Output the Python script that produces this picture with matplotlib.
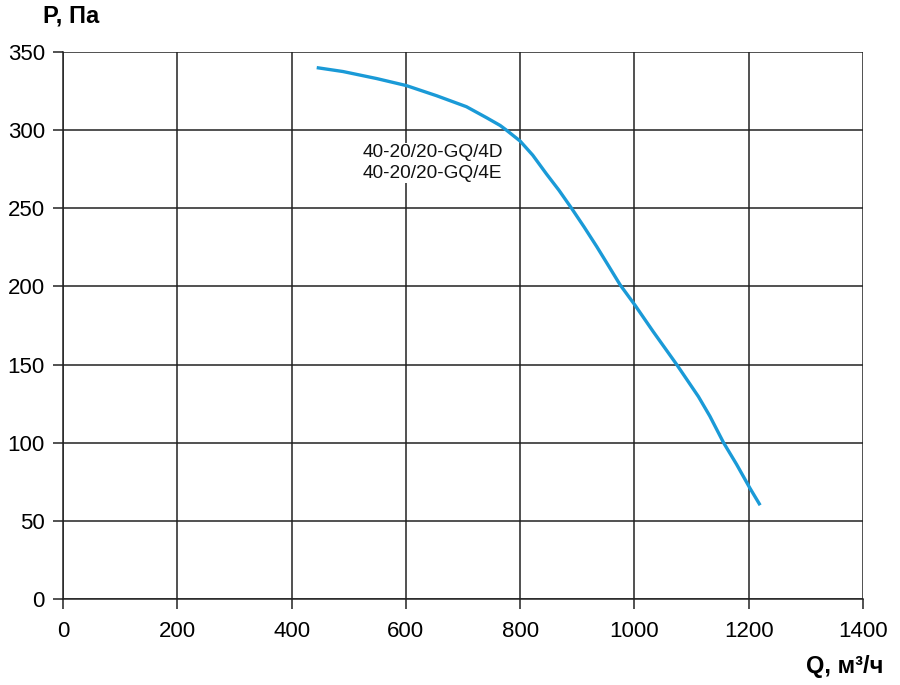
import matplotlib
matplotlib.use("Agg")
import matplotlib.pyplot as plt

plt.rcParams["font.family"] = ["Liberation Sans", "DejaVu Sans"]

# Характеристика вентилятора
Q = [444, 490, 549, 601, 654, 706, 741, 765, 776, 800, 822, 846, 868, 890,
     912, 934, 955, 975, 1001, 1033, 1074, 1112, 1132, 1156, 1179, 1202, 1220]
P = [340, 337.5, 333, 328.5, 322, 315, 308, 303, 300, 293, 284, 272, 261.5,
     250, 238, 225.5, 213, 201, 188, 171, 150, 129.5, 117, 100, 86, 71, 60]

X_TICKS = [0, 200, 400, 600, 800, 1000, 1200, 1400]
Y_TICKS = [0, 50, 100, 150, 200, 250, 300, 350]
MODEL_LABEL = "40-20/20-GQ/4D\n40-20/20-GQ/4E"

C_LINE = "#1a9ad7"
C_GRID = "#222222"

fig = plt.figure(figsize=(9, 6.85), dpi=100, facecolor="white")
ax = fig.add_axes([63 / 900, 86 / 685, 800 / 900, 547 / 685])

ax.plot(Q, P, color=C_LINE, linewidth=2.4, solid_capstyle="butt",
        solid_joinstyle="round", zorder=3)

# подпись модели на белой подложке (перекрывает сетку)
ax.text(647, 279, MODEL_LABEL, ha="center", va="center", fontsize=13.7,
        linespacing=1.25, color="#111111", zorder=4,
        bbox=dict(facecolor="white", edgecolor="none", pad=1))

ax.set_xlim(0, 1400)
ax.set_ylim(0, 350)
ax.set_xticks(X_TICKS)
ax.set_yticks(Y_TICKS)
ax.tick_params(axis="both", direction="out", length=7, width=1.1,
               color=C_GRID, labelsize=16)
ax.tick_params(axis="x", pad=9)
ax.tick_params(axis="y", pad=6)
ax.grid(True, color=C_GRID, linewidth=1.1, zorder=1)
for side in ["top", "right"]:
    ax.spines[side].set_visible(False)
for side in ["left", "bottom"]:
    ax.spines[side].set_color(C_GRID)
    ax.spines[side].set_linewidth(1.1)

fig.text(43 / 900, 1 - 16 / 685, "P, Па", ha="left", va="center",
         fontsize=17, fontweight="bold")
fig.text(883 / 900, 1 - 667 / 685, "Q, м³/ч", ha="right", va="center",
         fontsize=17, fontweight="bold")

fig.savefig("out.png", dpi=100)
